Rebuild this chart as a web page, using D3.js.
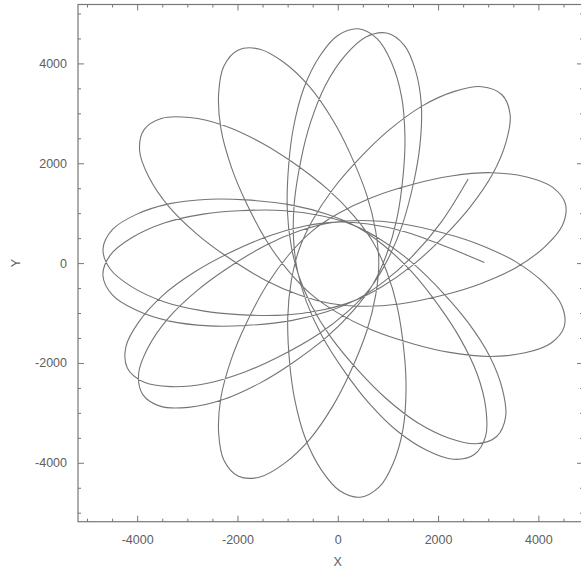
<!DOCTYPE html>
<html>
<head>
<meta charset="utf-8">
<script src="https://cdn.jsdelivr.net/npm/d3@7"></script>
<style>
  body { margin: 0; background: #fff; }
  svg { display: block; }
  text { font-family: "Liberation Sans", Arial, sans-serif; }
</style>
</head>
<body>
<div id="chart"></div>
<script>
// orbit: angle in degrees (ccw from +X), radius in X/Y units
const orbitAngle = [
  0.2, 8.0, 25.0, 52.0, 91.75, 131.5, 158.5, 175.5, 183.5, 190.5, 196.5, 201.5,
  206.5, 211.5, 216.5, 222.5, 229.5, 237.5, 254.5, 281.5, 322.25, 3.0, 30.0, 47.0, 55.0, 62.0, 68.0, 73.0,
  78.0, 83.0, 88.0, 94.0, 101.0, 109.0, 126.0, 153.0, 191.75, 230.5, 257.5, 274.5, 282.5, 289.5, 295.5, 300.5,
  305.5, 310.5, 315.5, 321.5, 328.5, 336.5, 353.5, 20.5, 61.0, 101.5, 128.5, 145.5, 153.5, 160.5, 166.5, 171.5,
  176.5, 181.5, 186.5, 192.5, 199.5, 207.5, 224.5, 251.5, 291.15, 330.8, 357.8, 14.8, 22.8, 29.8, 35.8, 40.8,
  45.8, 50.8, 55.8, 61.8, 68.8, 76.8, 93.8, 120.8, 160.65, 200.5, 227.5, 244.5, 252.5, 259.5, 265.5, 270.5,
  275.5, 280.5, 285.5, 291.5, 298.5, 306.5, 323.5, 350.5, 30.5, 70.5, 97.5, 114.5, 122.5, 129.5, 135.5, 140.5,
  145.5, 150.5, 155.5, 161.5, 168.5, 176.5, 193.5, 220.5, 260.0, 299.5, 326.5, 343.5, 351.5, 358.5, 4.5, 9.5,
  14.5, 19.5, 24.5, 30.5, 37.5, 45.5, 62.5, 89.5, 129.75, 170.0, 197.0, 214.0, 222.0, 229.0, 235.0, 240.0,
  245.0, 250.0, 255.0, 261.0, 268.0, 276.0, 293.0, 320.0, 0.0, 40.0, 67.0, 84.0, 92.0, 99.0, 105.0, 110.0,
  115.0, 120.0, 125.0, 131.0, 138.0, 146.0, 163.0, 190.0, 229.7, 269.4, 296.4, 313.4, 321.4, 328.4, 334.4, 339.4,
  344.4, 349.4, 354.4, 0.4, 7.4, 15.4, 32.4, 59.4, 99.2, 139.0, 166.0, 183.0, 191.0, 198.0, 204.0, 209.0,
  214.0, 219.0, 224.0, 230.0, 237.0, 245.0, 262.0, 289.0, 329.5, 10.0, 37.0, 54.0, 62.0, 69.0, 75.0, 80.0,
  85.0, 90.0, 95.0, 101.0, 108.0, 116.0, 133.0, 160.0, 198.75, 237.5, 264.5, 281.5, 289.5, 296.5, 302.5, 307.5,
  312.5, 317.5, 322.5, 328.5, 335.5, 343.5, 0.5, 27.5, 67.75, 108.0, 135.0, 152.0, 160.0, 167.0, 173.0, 178.0,
  183.0, 188.0, 193.0, 199.0, 206.0, 214.0, 231.0, 258.0, 297.85, 337.7, 4.7, 21.7, 32.8
];
const orbitRadius = [
  2930, 2230, 1480, 990, 820, 990, 1480, 2230, 2860, 3560, 4150, 4550,
  4700, 4550, 4150, 3560, 2860, 2230, 1480, 990, 820, 990, 1480, 2230, 2860, 3560, 4150, 4550,
  4700, 4550, 4150, 3560, 2860, 2230, 1480, 990, 820, 990, 1480, 2230, 2860, 3560, 4150, 4550,
  4700, 4550, 4150, 3560, 2860, 2230, 1480, 990, 820, 990, 1480, 2230, 2860, 3560, 4150, 4550,
  4700, 4550, 4150, 3560, 2860, 2230, 1480, 990, 820, 990, 1480, 2230, 2860, 3560, 4150, 4550,
  4700, 4550, 4150, 3560, 2860, 2230, 1480, 990, 820, 990, 1480, 2230, 2860, 3560, 4150, 4550,
  4700, 4550, 4150, 3560, 2860, 2230, 1480, 990, 820, 990, 1480, 2230, 2860, 3560, 4150, 4550,
  4700, 4550, 4150, 3560, 2860, 2230, 1480, 990, 820, 990, 1480, 2230, 2860, 3560, 4150, 4550,
  4700, 4550, 4150, 3560, 2860, 2230, 1480, 990, 820, 990, 1480, 2230, 2860, 3560, 4150, 4550,
  4700, 4550, 4150, 3560, 2860, 2230, 1480, 990, 820, 990, 1480, 2230, 2860, 3560, 4150, 4550,
  4700, 4550, 4150, 3560, 2860, 2230, 1480, 990, 820, 990, 1480, 2230, 2860, 3560, 4150, 4550,
  4700, 4550, 4150, 3560, 2860, 2230, 1480, 990, 820, 990, 1480, 2230, 2860, 3560, 4150, 4550,
  4700, 4550, 4150, 3560, 2860, 2230, 1480, 990, 820, 990, 1480, 2230, 2860, 3560, 4150, 4550,
  4700, 4550, 4150, 3560, 2860, 2230, 1480, 990, 820, 990, 1480, 2230, 2860, 3560, 4150, 4550,
  4700, 4550, 4150, 3560, 2860, 2230, 1480, 990, 820, 990, 1480, 2230, 2860, 3560, 4150, 4550,
  4700, 4550, 4150, 3560, 2860, 2230, 1480, 990, 820, 990, 1480, 2230, 3100
];

// axis ticks
const majorTicks = [-4000, -2000, 0, 2000, 4000];
const minorTicks = [-5000, -4500, -3500, -3000, -2500, -1500, -1000, -500,
  500, 1000, 1500, 2500, 3000, 3500, 4500, 5000];

const width = 581;
const height = 570;

// the frame runs a little past the right edge of the picture
const x = d3.scaleLinear().domain([-5180, 4890]).range([78, 583]);
const y = d3.scaleLinear().domain([-5180, 5180]).range([521.7, 4.5]);

const svg = d3.select("#chart")
  .append("svg")
  .attr("width", width)
  .attr("height", height);

// ticks on all four sides, pointing inward
function addAxis(axis, tx, ty, labels) {
  const g = svg.append("g")
    .attr("transform", `translate(${tx},${ty})`)
    .call(axis);
  g.select(".domain").remove();
  g.selectAll("line").attr("stroke", "#777").attr("stroke-width", 1);
  g.selectAll("text")
    .attr("fill", "#606060")
    .style("font-size", "12.5px")
    .style("font-family", "'Liberation Sans', Arial, sans-serif");
  if (!labels) g.selectAll("text").remove();
  return g;
}

const yZero = y(0), xZero = x(0);
const plain = d => String(d);

addAxis(d3.axisBottom(x).tickValues(majorTicks).tickSize(-6).tickPadding(13).tickFormat(plain), 0, y.range()[0], true);
addAxis(d3.axisBottom(x).tickValues(minorTicks).tickSize(-3), 0, y.range()[0], false);
addAxis(d3.axisTop(x).tickValues(majorTicks).tickSize(-6), 0, y.range()[1], false);
addAxis(d3.axisTop(x).tickValues(minorTicks).tickSize(-3), 0, y.range()[1], false);
addAxis(d3.axisLeft(y).tickValues(majorTicks).tickSize(-6).tickPadding(11).tickFormat(plain), x.range()[0], 0, true);
addAxis(d3.axisLeft(y).tickValues(minorTicks).tickSize(-3), x.range()[0], 0, false);
addAxis(d3.axisRight(y).tickValues(majorTicks).tickSize(-6), x.range()[1], 0, false);
addAxis(d3.axisRight(y).tickValues(minorTicks).tickSize(-3), x.range()[1], 0, false);

// frame
svg.append("rect")
  .attr("x", x.range()[0])
  .attr("y", y.range()[1])
  .attr("width", x.range()[1] - x.range()[0])
  .attr("height", y.range()[0] - y.range()[1])
  .attr("fill", "none")
  .attr("stroke", "#777")
  .attr("stroke-width", 1.2);

// polar scales for the orbit: degrees ccw from +X to d3's clockwise-from-top radians
const angleScale = d3.scaleLinear().domain([0, 360]).range([Math.PI / 2, Math.PI / 2 - 2 * Math.PI]);
const radiusScale = d3.scaleLinear().domain([0, 1000])
  .range([0, ((x(1000) - x(0)) + (y(0) - y(1000))) / 2]);

const orbit = orbitAngle.map((a, i) => ({ a: a, r: orbitRadius[i] }));

const line = d3.lineRadial()
  .angle(d => angleScale(d.a))
  .radius(d => radiusScale(d.r))
  .curve(d3.curveCatmullRom.alpha(0.5));

svg.append("path")
  .datum(orbit)
  .attr("transform", `translate(${xZero},${yZero})`)
  .attr("d", line)
  .attr("fill", "none")
  .attr("stroke", "#747474")
  .attr("stroke-width", 1.1);

// axis titles
svg.append("text")
  .attr("x", xZero)
  .attr("y", 566)
  .attr("text-anchor", "middle")
  .attr("fill", "#606060")
  .style("font-size", "12.5px")
  .text("X");

svg.append("text")
  .attr("transform", `translate(20,${yZero}) rotate(-90)`)
  .attr("text-anchor", "middle")
  .attr("fill", "#606060")
  .style("font-size", "12.5px")
  .text("Y");
</script>
</body>
</html>
